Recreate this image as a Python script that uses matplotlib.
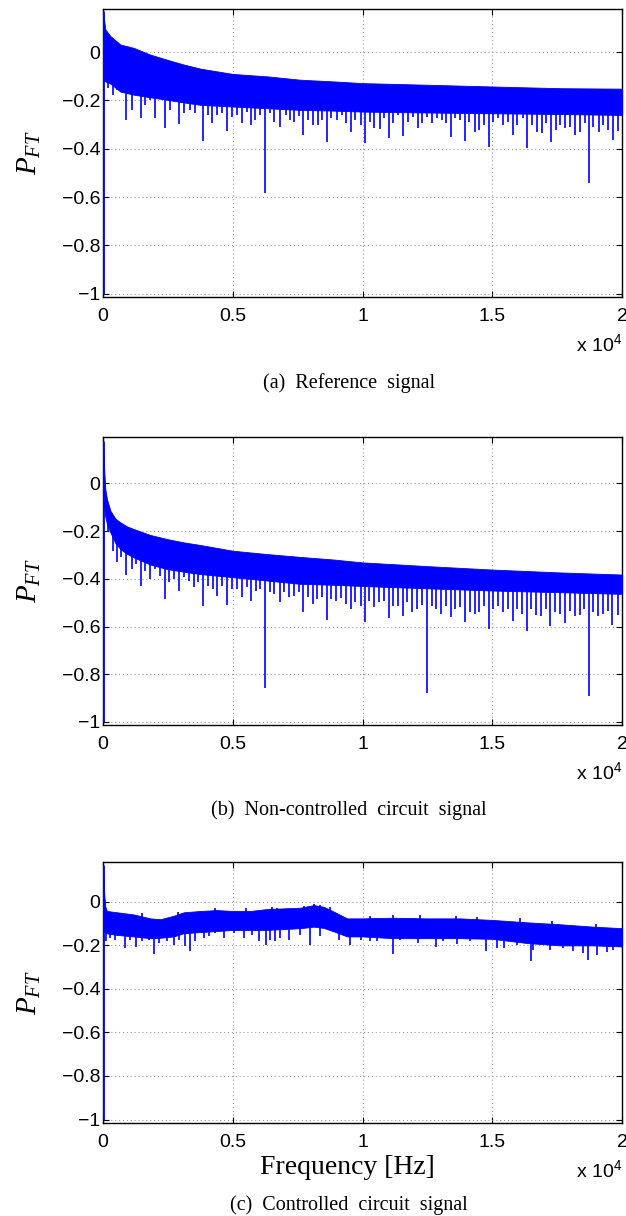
"""
Three FFT spectra (reference / non-controlled / controlled circuit),
MATLAB-style stacked panels.
"""

import numpy as np
import matplotlib.pyplot as plt

# ── data (x in Hz) ───────────────────────────────────────────────────────────
xticks_hz = [0, 5000, 10000, 15000, 20000]
xtick_labels = ['0', '0.5', '1', '1.5', '2']
yticks = [-1, -0.8, -0.6, -0.4, -0.2, 0]
ytick_labels = ['\u22121', '\u22120.8', '\u22120.6', '\u22120.4', '\u22120.2', '0']

# (a) reference signal: dense band (top / bottom edge) + downward spikes
ref_env_x = [0, 90, 283, 668, 1183, 1825, 2468, 3111, 3753, 5000, 6324,
             7609, 8895, 10000, 12570, 15000, 17600, 20000]
ref_top = [0.171, 0.094, 0.067, 0.032, 0.018, -0.010, -0.031, -0.051, -0.068,
           -0.090, -0.100, -0.114, -0.121, -0.128, -0.135, -0.142, -0.149, -0.151]
ref_bot = [-0.114, -0.121, -0.130, -0.163, -0.176, -0.187, -0.197, -0.208,
           -0.218, -0.225, -0.232, -0.239, -0.242, -0.246, -0.250, -0.253,
           -0.256, -0.260]
ref_spk_x = [180, 373, 540, 900, 1118, 1465, 1632, 1825, 2018, 2378, 2596,
             2943, 3110, 3367, 3560, 3856, 4049, 4203, 4396, 4589, 4781, 4974,
             5167, 5360, 5553, 5707, 5874, 6067, 6247, 6427, 6607, 6838, 7043,
             7198, 7378, 7545, 7712, 7892, 8085, 8277, 8445, 8637, 8792, 9023,
             9216, 9383, 9563, 9730, 9923, 10100, 10308, 10450, 10668, 10823,
             11015, 11182, 11375, 11568, 11761, 11954, 12146, 12301, 12468,
             12661, 12854, 13046, 13213, 13393, 13560, 13753, 13946, 14113,
             14319, 14499, 14679, 14859, 15039, 15231, 15424, 15617, 15784,
             15964, 16170, 16350, 16530, 16710, 16902, 17069, 17249, 17442,
             17609, 17802, 17995, 18187, 18380, 18573, 18740, 18894, 19100,
             19280, 19473, 19666, 19859]
ref_spk_y = [-0.149, -0.176, -0.156, -0.281, -0.239, -0.274, -0.218, -0.197,
             -0.271, -0.315, -0.239, -0.299, -0.253, -0.239, -0.253, -0.368,
             -0.260, -0.294, -0.260, -0.253, -0.326, -0.267, -0.260, -0.294,
             -0.246, -0.301, -0.281, -0.260, -0.582, -0.253, -0.290, -0.308,
             -0.260, -0.281, -0.288, -0.265, -0.343, -0.281, -0.301, -0.301,
             -0.281, -0.374, -0.274, -0.281, -0.260, -0.294, -0.329, -0.281,
             -0.301, -0.378, -0.288, -0.313, -0.318, -0.274, -0.357, -0.294,
             -0.260, -0.346, -0.288, -0.267, -0.313, -0.294, -0.267, -0.294,
             -0.274, -0.281, -0.294, -0.350, -0.274, -0.281, -0.368, -0.290,
             -0.329, -0.322, -0.301, -0.392, -0.288, -0.274, -0.301, -0.288,
             -0.343, -0.301, -0.274, -0.396, -0.301, -0.329, -0.336, -0.294,
             -0.371, -0.322, -0.301, -0.315, -0.308, -0.343, -0.329, -0.294,
             -0.540, -0.308, -0.329, -0.301, -0.322, -0.364, -0.325]

# (b) non-controlled circuit signal
nc_env_x = [0, 51, 90, 154, 283, 476, 668, 925, 1183, 1825, 2468, 3111, 3753,
            5000, 6324, 7609, 8895, 10000, 12570, 15000, 17600, 20000]
nc_top = [0.179, 0.046, -0.024, -0.066, -0.114, -0.147, -0.163, -0.180,
          -0.191, -0.216, -0.233, -0.247, -0.258, -0.282, -0.296, -0.308,
          -0.319, -0.331, -0.347, -0.361, -0.373, -0.382]
nc_bot = [-0.050, -0.107, -0.140, -0.170, -0.205, -0.250, -0.275, -0.295,
          -0.310, -0.340, -0.359, -0.370, -0.380, -0.393, -0.407, -0.421,
          -0.425, -0.430, -0.440, -0.449, -0.456, -0.463]
nc_spk_x = [180, 386, 540, 707, 900, 1118, 1272, 1465, 1632, 1825, 2018,
            2185, 2378, 2558, 2750, 2943, 3110, 3303, 3496, 3663, 3856, 4036,
            4229, 4396, 4589, 4781, 4974, 5167, 5360, 5553, 5707, 5900, 6067,
            6247, 6427, 6607, 6812, 6992, 7159, 7352, 7545, 7712, 7892, 8085,
            8252, 8445, 8637, 8805, 8985, 9177, 9370, 9563, 9730, 9923, 10090,
            10244, 10437, 10630, 10823, 11003, 11182, 11362, 11542, 11722,
            11915, 12108, 12288, 12470, 12661, 12841, 13020, 13200, 13393,
            13573, 13753, 13946, 14126, 14319, 14499, 14679, 14859, 15039,
            15231, 15424, 15617, 15784, 15964, 16144, 16324, 16504, 16684,
            16877, 17056, 17236, 17429, 17609, 17802, 17995, 18174, 18367,
            18547, 18727, 18894, 19074, 19254, 19447, 19627, 19833]
nc_spk_y = [-0.205, -0.282, -0.331, -0.310, -0.384, -0.359, -0.338, -0.431,
            -0.366, -0.400, -0.359, -0.389, -0.484, -0.414, -0.400, -0.453,
            -0.393, -0.407, -0.435, -0.412, -0.515, -0.428, -0.442, -0.470,
            -0.428, -0.509, -0.442, -0.442, -0.477, -0.435, -0.491, -0.453,
            -0.442, -0.857, -0.456, -0.463, -0.498, -0.456, -0.477, -0.470,
            -0.456, -0.540, -0.477, -0.505, -0.484, -0.477, -0.571, -0.484,
            -0.491, -0.481, -0.505, -0.526, -0.498, -0.512, -0.582, -0.491,
            -0.519, -0.498, -0.491, -0.565, -0.512, -0.512, -0.554, -0.498,
            -0.540, -0.526, -0.509, -0.878, -0.512, -0.526, -0.547, -0.512,
            -0.561, -0.526, -0.519, -0.579, -0.540, -0.547, -0.540, -0.512,
            -0.610, -0.526, -0.512, -0.540, -0.526, -0.575, -0.526, -0.547,
            -0.617, -0.526, -0.551, -0.554, -0.526, -0.596, -0.540, -0.547,
            -0.585, -0.533, -0.554, -0.551, -0.526, -0.890, -0.540, -0.554,
            -0.547, -0.533, -0.593, -0.551]

# (c) controlled circuit signal
ctrl_env_x = [0, 51, 90, 154, 540, 1183, 1825, 2211, 2725, 3111, 3753, 4396,
              5000, 5681, 6324, 6967, 7609, 8123, 8509, 8895, 9409, 10000,
              11182, 12468, 13753, 15000, 16324, 17609, 18894, 20000]
ctrl_top = [0.167, 0.030, -0.023, -0.042, -0.048, -0.058, -0.076, -0.080,
            -0.064, -0.048, -0.042, -0.038, -0.042, -0.042, -0.033, -0.030,
            -0.027, -0.015, -0.023, -0.045, -0.076, -0.076, -0.073, -0.076,
            -0.076, -0.083, -0.094, -0.103, -0.114, -0.121]
ctrl_bot = [-0.050, -0.136, -0.140, -0.145, -0.152, -0.159, -0.167, -0.165,
            -0.159, -0.144, -0.139, -0.134, -0.129, -0.129, -0.129, -0.125,
            -0.121, -0.114, -0.120, -0.136, -0.159, -0.159, -0.167, -0.167,
            -0.167, -0.170, -0.189, -0.200, -0.200, -0.205]
ctrl_spk_x = [129, 283, 476, 861, 1054, 1272, 1504, 1761, 1954, 2146, 2468,
              2725, 2918, 3175, 3342, 3560, 3882, 4074, 4332, 4653, 5039,
              5424, 5745, 6002, 6285, 6452, 6619, 6838, 7159, 7583, 7969,
              8380, 9087, 9537, 9923, 10283, 10540, 11157, 11440, 12146,
              12828, 13110, 13625, 14139, 14743, 15167, 15450, 15938, 16478,
              16581, 17223, 17737, 18123, 18483, 18701, 19022, 19408, 19666]
ctrl_spk_y = [-0.182, -0.167, -0.174, -0.212, -0.174, -0.209, -0.182, -0.174,
              -0.239, -0.189, -0.182, -0.197, -0.174, -0.205, -0.224, -0.179,
              -0.167, -0.159, -0.144, -0.167, -0.144, -0.167, -0.152, -0.182,
              -0.200, -0.174, -0.182, -0.167, -0.174, -0.152, -0.200, -0.159,
              -0.174, -0.200, -0.174, -0.182, -0.182, -0.239, -0.174, -0.189,
              -0.209, -0.182, -0.194, -0.179, -0.224, -0.212, -0.212, -0.197,
              -0.273, -0.220, -0.220, -0.212, -0.224, -0.235, -0.265, -0.245,
              -0.230, -0.220]
# small upward excursions on the noisy top edge of (c)
ctrl_up_x = [1500, 2900, 4330, 5500, 6500, 6700, 7750, 8120, 8380, 8760,
             10280, 11180, 12210, 13620, 14400, 16060, 17300, 19000]
ctrl_up_y = [-0.050, -0.045, -0.030, -0.030, -0.024, -0.027, -0.020, -0.010,
             -0.015, -0.024, -0.064, -0.062, -0.061, -0.064, -0.068, -0.074,
             -0.090, -0.100]

# DC bin: vertical line at f = 0 from -1 up to the first peak
dc_low = -1.0

# ── style ────────────────────────────────────────────────────────────────────
plt.rcParams.update({
    'font.family': 'Liberation Sans',
    'mathtext.fontset': 'custom',
    'mathtext.it': 'Liberation Serif:italic',
    'mathtext.rm': 'Liberation Serif',
    'axes.linewidth': 1.0,
    'xtick.direction': 'in',
    'ytick.direction': 'in',
    'xtick.top': True,
    'ytick.right': True,
})
BLUE = (0, 0, 1)

W, H = 626, 1216
fig = plt.figure(figsize=(W / 100, H / 100), dpi=100)


def px_box(left, top, right, bottom):
    return [left / W, 1 - bottom / H, (right - left) / W, (bottom - top) / H]


panels = [
    (px_box(103, 9, 622, 297), (-1.014, 0.179),
     ref_env_x, ref_top, ref_bot, ref_spk_x, ref_spk_y),
    (px_box(103, 437, 622, 725), (-1.013, 0.195),
     nc_env_x, nc_top, nc_bot, nc_spk_x, nc_spk_y),
    (px_box(103, 862, 622, 1123), (-1.016, 0.183),
     ctrl_env_x, ctrl_top, ctrl_bot, ctrl_spk_x, ctrl_spk_y),
]

axes = []
for box, ylim, ex, top, bot, sx, sy in panels:
    ax = fig.add_axes(box)
    ax.fill_between(ex, bot, top, color=BLUE, linewidth=0.6, zorder=3)
    base = np.interp(sx, ex, bot) + 0.01
    ax.vlines(sx, sy, base, color=BLUE, linewidth=1.2, zorder=3)
    ax.vlines([ex[0]], dc_low, top[0], color=BLUE, linewidth=2.0, zorder=3)

    ax.set_xlim(0, 20000)
    ax.set_ylim(*ylim)
    ax.set_xticks(xticks_hz)
    ax.set_xticklabels(xtick_labels)
    ax.set_yticks(yticks)
    ax.set_yticklabels(ytick_labels)
    ax.tick_params(labelsize=14, length=4, width=0.8)
    ax.tick_params(axis='x', pad=8)
    ax.tick_params(axis='y', pad=2)
    ax.grid(True, color='#9a9a9a', linestyle=(0, (1, 2.5)), linewidth=0.8,
            zorder=0)
    ax.set_ylabel('$P_{FT}$', fontsize=21, labelpad=0)
    ax.yaxis.set_label_coords(-60 / 519, 0.5)
    # MATLAB-style exponent under the right end of the x axis
    ax.text(1.0, -47 / (box[3] * H), 'x $\\mathregular{10^{4}}$',
            transform=ax.transAxes, ha='right', va='center', fontsize=14)
    axes.append(ax)

# noisy top edge of the controlled-circuit band
ctrl_base = np.interp(ctrl_up_x, ctrl_env_x, ctrl_top) - 0.01
axes[2].vlines(ctrl_up_x, ctrl_base, ctrl_up_y, color=BLUE, linewidth=1.2,
               zorder=3)

# x label on the bottom panel only
fig.text(347 / W, 1 - 1168 / H, 'Frequency [Hz]', family='Liberation Serif',
         fontsize=20, ha='center', va='center')

# subfigure captions
captions = ['(a)  Reference  signal',
            '(b)  Non-controlled  circuit  signal',
            '(c)  Controlled  circuit  signal']
caption_y = [383, 810, 1205]
for cap, cy in zip(captions, caption_y):
    fig.text(349 / W, 1 - cy / H, cap, family='Liberation Serif',
             fontsize=14.5, ha='center', va='center')

fig.savefig('out.png', dpi=100)
